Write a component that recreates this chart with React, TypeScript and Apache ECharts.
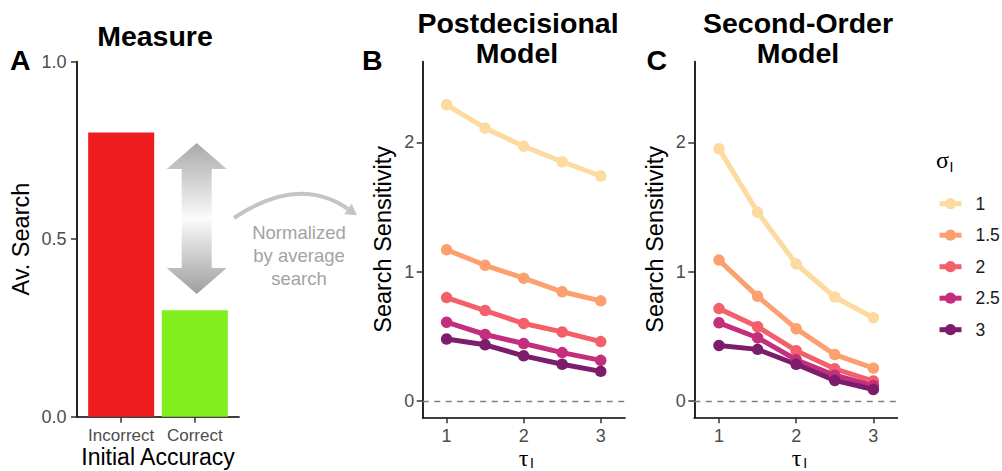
import React, { useEffect, useRef } from "react";
import * as echarts from "echarts";

// Panel A: average search by initial accuracy
const accuracyLevels = ["Incorrect", "Correct"];
const avSearch = [0.8, 0.3];
const accuracyColors = ["#EE1C1F", "#80EF1D"];

// Panels B and C: search sensitivity by tau, one line per sigma level
const tauValues = [1, 1.5, 2, 2.5, 3];
const sigmaLevels = ["1", "1.5", "2", "2.5", "3"];
const sigmaColors = ["#FDDA9F", "#FDA06F", "#F3606A", "#C42F7D", "#7C1D6C"];

const postdecisional = [
  [2.29, 2.11, 1.97, 1.85, 1.74],
  [1.17, 1.05, 0.95, 0.845, 0.775],
  [0.8, 0.7, 0.6, 0.535, 0.46],
  [0.61, 0.515, 0.445, 0.375, 0.315],
  [0.48, 0.435, 0.35, 0.285, 0.23],
];
const secondOrder = [
  [1.95, 1.46, 1.06, 0.805, 0.645],
  [1.09, 0.81, 0.56, 0.36, 0.255],
  [0.715, 0.575, 0.39, 0.25, 0.155],
  [0.605, 0.49, 0.32, 0.2, 0.12],
  [0.43, 0.4, 0.285, 0.16, 0.09],
];

const yTicksModel = [0, 1, 2];
const xTicksModel = [1, 2, 3];
const yTicksMeasure = [0, 0.5, 1];

const FONT = '"Liberation Sans", Arial, Helvetica, sans-serif';
const SERIF = '"Liberation Serif", "DejaVu Serif", serif';

const axisLine = { show: true, onZero: false, lineStyle: { color: "#000", width: 1.7 } };
const axisTick = (values: number[]) => ({
  show: true,
  length: 6,
  customValues: values,
  lineStyle: { color: "#333", width: 1.5 },
});
const labelBase = { color: "#4D4D4D", fontSize: 18, fontFamily: FONT };

function buildOption() {
  const grids = [
    { left: 77, top: 61.5, width: 162, height: 355.2, outerBoundsMode: "none" },
    { left: 422.7, top: 61.5, width: 202.3, height: 355.8, outerBoundsMode: "none" },
    { left: 694.3, top: 61.5, width: 203, height: 355.8, outerBoundsMode: "none" },
  ];

  const xAxes: any[] = [
    {
      type: "value",
      gridIndex: 0,
      min: 0.4,
      max: 2.6,
      axisLine,
      axisTick: axisTick([1, 2]),
      splitLine: { show: false },
      axisLabel: {
        ...labelBase,
        fontSize: 17,
        lineHeight: 16,
        customValues: [1, 2],
        verticalAlign: "middle",
        margin: 19,
        formatter: (v: number) => accuracyLevels[Math.round(v) - 1] ?? "",
      },
      name: "Initial Accuracy",
      nameLocation: "middle",
      nameGap: 40,
      nameMoveOverlap: false,
      nameTextStyle: {
        fontSize: 23,
        lineHeight: 22,
        color: "#000",
        fontFamily: FONT,
        verticalAlign: "middle",
      },
    },
    ...[
      { grid: 1, min: 0.69, max: 3.315 },
      { grid: 2, min: 0.68, max: 3.31 },
    ].map((g) => ({
      type: "value",
      gridIndex: g.grid,
      min: g.min,
      max: g.max,
      axisLine,
      axisTick: axisTick(xTicksModel),
      splitLine: { show: false },
      axisLabel: {
        ...labelBase,
        customValues: xTicksModel,
        verticalAlign: "middle",
        margin: 18.5,
        lineHeight: 16,
      },
    })),
  ];

  const yAxes: any[] = [
    {
      type: "value",
      gridIndex: 0,
      min: 0,
      max: 1,
      axisLine,
      axisTick: axisTick(yTicksMeasure),
      splitLine: { show: false },
      axisLabel: {
        ...labelBase,
        customValues: yTicksMeasure,
        margin: 10.5,
        formatter: (v: number) => v.toFixed(1),
      },
      name: "Av. Search",
      nameLocation: "middle",
      nameRotate: 90,
      nameGap: 56,
      nameMoveOverlap: false,
      nameTextStyle: { fontSize: 23.5, color: "#000", fontFamily: FONT, verticalAlign: "middle" },
    },
    ...[
      { grid: 1, gap: 40.2 },
      { grid: 2, gap: 39.8 },
    ].map((g) => ({
      type: "value",
      gridIndex: g.grid,
      min: -0.125,
      max: 2.625,
      axisLine,
      axisTick: axisTick(yTicksModel),
      splitLine: { show: false },
      axisLabel: { ...labelBase, customValues: yTicksModel, margin: 8.5 },
      name: "Search Sensitivity",
      nameLocation: "middle",
      nameRotate: 90,
      nameGap: g.gap,
      nameMoveOverlap: false,
      nameTextStyle: { fontSize: 23.5, color: "#000", fontFamily: FONT, verticalAlign: "middle" },
    })),
  ];

  const zeroLine = {
    silent: true,
    symbol: "none",
    label: { show: false },
    lineStyle: { color: "#808080", type: [6, 5.5], width: 1.3 },
    data: [{ yAxis: 0 }],
  };

  const modelSeries = (values: number[][], axisIndex: number) =>
    values.map((row, i) => ({
      type: "line",
      name: sigmaLevels[i],
      xAxisIndex: axisIndex,
      yAxisIndex: axisIndex,
      data: row.map((v, j) => [tauValues[j], v]),
      symbol: "circle",
      symbolSize: 11.5,
      color: sigmaColors[i],
      itemStyle: { color: sigmaColors[i] },
      lineStyle: { color: sigmaColors[i], width: 5 },
      silent: true,
      emphasis: { disabled: true },
      ...(i === 0 ? { markLine: zeroLine } : {}),
    }));

  const series: any[] = [
    {
      type: "bar",
      xAxisIndex: 0,
      yAxisIndex: 0,
      barWidth: 66,
      silent: true,
      data: avSearch.map((v, i) => ({
        value: [i + 1, v],
        itemStyle: { color: accuracyColors[i] },
      })),
    },
    ...modelSeries(postdecisional, 1),
    ...modelSeries(secondOrder, 2),
  ];

  // Curved "normalized" arrow between panels A and B
  const p0 = [234, 218];
  const cp = [299, 174.5];
  const p2 = [348, 209];
  const tx = p2[0] - cp[0];
  const ty = p2[1] - cp[1];
  const tl = Math.hypot(tx, ty);
  const ux = tx / tl;
  const uy = ty / tl;
  const headLen = 11;
  const headHalf = 6.5;
  const head = [
    [p2[0] + ux * headLen, p2[1] + uy * headLen],
    [p2[0] + uy * headHalf, p2[1] - ux * headHalf],
    [p2[0] - uy * headHalf, p2[1] + ux * headHalf],
  ];

  const bold = (text: string, x: number, y: number, align = "center") => ({
    type: "text",
    x,
    y,
    silent: true,
    style: {
      text,
      fontSize: 28.5,
      lineHeight: 25,
      fontWeight: "bold",
      fontFamily: FONT,
      fill: "#000",
      align,
      verticalAlign: "middle",
    },
  });

  const greek = (sym: string, x: number, y: number, sub: string) => [
    {
      type: "text",
      x,
      y,
      silent: true,
      style: {
        text: sym,
        fontSize: 24,
        lineHeight: 16,
        fontFamily: SERIF,
        fill: "#000",
        align: "center",
        verticalAlign: "middle",
      },
    },
    {
      type: "text",
      x: x + 6.5,
      y: y + 5,
      silent: true,
      style: {
        text: sub,
        fontSize: 14,
        lineHeight: 12,
        fontFamily: FONT,
        fill: "#000",
        align: "left",
        verticalAlign: "middle",
      },
    },
  ];

  const graphic: any[] = [
    bold("A", 10, 60, "left"),
    bold("B", 362, 60, "left"),
    bold("C", 646.5, 60, "left"),
    bold("Measure", 155, 36),
    bold("Postdecisional", 518, 22.8),
    bold("Model", 517, 52.5),
    bold("Second-Order", 798, 22.8),
    bold("Model", 798, 52.5),
    ...greek("τ", 523.5, 458, "I"),
    ...greek("τ", 796.7, 458, "I"),
    {
      type: "text",
      x: 942.5,
      y: 159.5,
      silent: true,
      style: {
        text: "σ",
        fontSize: 24,
        lineHeight: 16,
        fontFamily: SERIF,
        fill: "#000",
        align: "center",
        verticalAlign: "middle",
      },
    },
    {
      type: "text",
      x: 949.5,
      y: 166.5,
      silent: true,
      style: {
        text: "I",
        fontSize: 14,
        lineHeight: 12,
        fontFamily: FONT,
        fill: "#000",
        align: "left",
        verticalAlign: "middle",
      },
    },
    {
      type: "polygon",
      silent: true,
      shape: {
        points: [
          [196.7, 143],
          [226.7, 169],
          [211.7, 169],
          [211.7, 268],
          [226.7, 268],
          [196.7, 294],
          [166.7, 268],
          [181.7, 268],
          [181.7, 169],
          [166.7, 169],
        ],
      },
      style: {
        fill: {
          type: "linear",
          x: 0,
          y: 0,
          x2: 0,
          y2: 1,
          colorStops: [
            { offset: 0, color: "#A9A9AB" },
            { offset: 0.5, color: "#FBFBFB" },
            { offset: 1, color: "#9E9EA0" },
          ],
        },
      },
    },
    {
      type: "bezierCurve",
      silent: true,
      shape: { x1: p0[0], y1: p0[1], x2: p2[0], y2: p2[1], cpx1: cp[0], cpy1: cp[1] },
      style: { stroke: "#C4C4C4", lineWidth: 4, fill: null },
    },
    {
      type: "polygon",
      silent: true,
      shape: { points: head },
      style: { fill: "#C4C4C4" },
    },
    {
      type: "text",
      x: 299,
      y: 255.3,
      silent: true,
      style: {
        text: "Normalized\nby average\nsearch",
        fontSize: 18.5,
        lineHeight: 23,
        fontFamily: FONT,
        fill: "#A3A3A3",
        align: "center",
        verticalAlign: "middle",
      },
    },
  ];

  return {
    animation: false,
    backgroundColor: "#fff",
    textStyle: { fontFamily: FONT },
    grid: grids,
    xAxis: xAxes,
    yAxis: yAxes,
    legend: {
      orient: "vertical",
      left: 937,
      top: 194.7,
      padding: 0,
      itemWidth: 22,
      itemHeight: 14,
      itemGap: 13.5,
      selectedMode: false,
      data: sigmaLevels,
      lineStyle: { width: 5 },
      textStyle: {
        fontSize: 17.5,
        lineHeight: 14,
        color: "#1A1A1A",
        fontFamily: FONT,
        padding: [0, 0, 0, 9],
      },
    },
    series,
    graphic,
  };
}

export default function App() {
  const ref = useRef<HTMLDivElement>(null);
  useEffect(() => {
    if (!ref.current) return;
    const chart = echarts.init(ref.current, null, { renderer: "svg" });
    chart.setOption(buildOption() as any);
    return () => chart.dispose();
  }, []);
  return (
    <div
      ref={ref}
      style={{ position: "absolute", left: 0, top: 0, width: 1002, height: 471, background: "#fff" }}
    />
  );
}
